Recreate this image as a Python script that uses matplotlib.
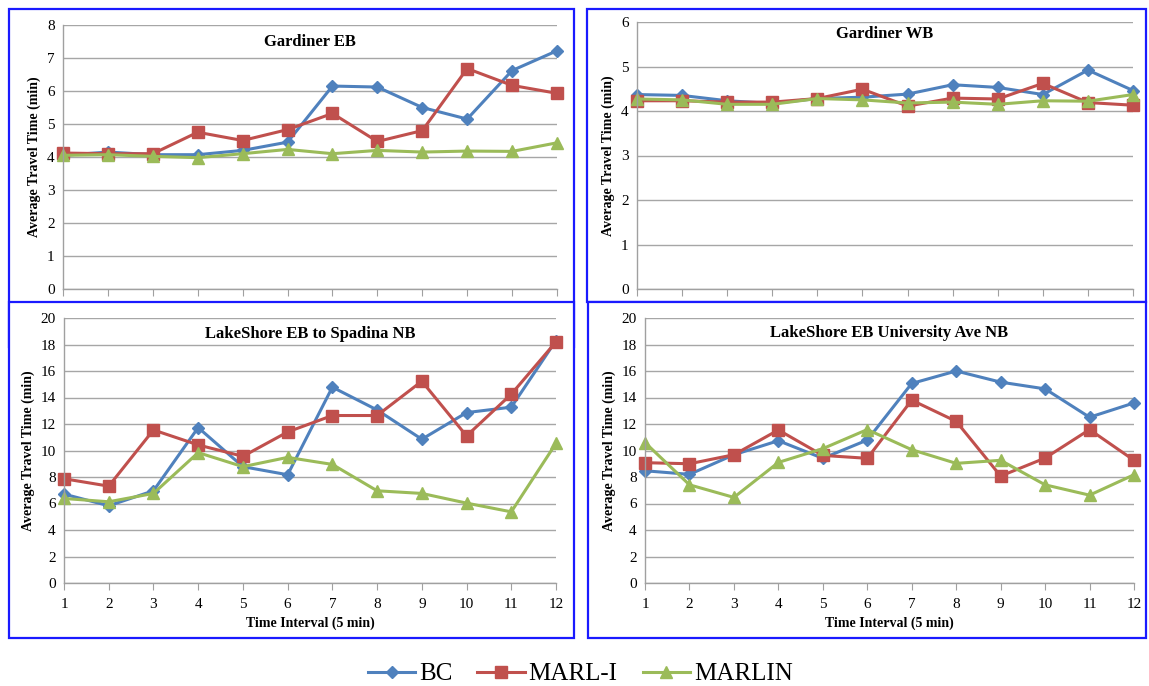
import matplotlib
matplotlib.use("Agg")
import matplotlib.pyplot as plt
from matplotlib.patches import Rectangle

plt.rcParams['font.family'] = ['Liberation Serif', 'DejaVu Serif']

intervals = list(range(1, 13))
series_names = ['BC', 'MARL-I', 'MARLIN']

# Gardiner EB
eb_bc = [4.05, 4.15, 4.07, 4.07, 4.2, 4.45, 6.15, 6.12, 5.5, 5.15, 6.62, 7.22]
eb_marli = [4.12, 4.1, 4.1, 4.75, 4.5, 4.83, 5.32, 4.47, 4.8, 6.68, 6.17, 5.93]
eb_marlin = [4.05, 4.07, 4.02, 3.98, 4.1, 4.23, 4.1, 4.2, 4.15, 4.18, 4.17, 4.43]

# Gardiner WB
wb_bc = [4.37, 4.35, 4.23, 4.17, 4.28, 4.31, 4.38, 4.59, 4.53, 4.37, 4.92, 4.46]
wb_marli = [4.23, 4.23, 4.2, 4.2, 4.28, 4.49, 4.11, 4.29, 4.27, 4.62, 4.19, 4.13]
wb_marlin = [4.27, 4.25, 4.15, 4.15, 4.28, 4.25, 4.18, 4.2, 4.15, 4.23, 4.22, 4.37]

# LakeShore EB to Spadina NB
sp_bc = [6.71, 5.83, 6.96, 11.73, 8.78, 8.17, 14.78, 13.06, 10.85, 12.86, 13.27, 18.3]
sp_marli = [7.87, 7.31, 11.55, 10.42, 9.56, 11.4, 12.64, 12.64, 15.23, 11.1, 14.25, 18.2]
sp_marlin = [6.38, 6.13, 6.76, 9.84, 8.78, 9.48, 8.95, 6.96, 6.76, 6.03, 5.37, 10.54]

# LakeShore EB University Ave NB
un_bc = [8.47, 8.2, 9.68, 10.74, 9.41, 10.79, 15.06, 16.0, 15.16, 14.65, 12.51, 13.59]
un_marli = [9.08, 9.0, 9.68, 11.55, 9.63, 9.41, 13.8, 12.2, 8.07, 9.43, 11.58, 9.26]
un_marlin = [10.6, 7.41, 6.46, 9.1, 10.14, 11.58, 10.06, 9.03, 9.26, 7.41, 6.63, 8.17]

colors = ['#4F81BD', '#C0504D', '#9BBB59']
markers = ['D', 's', '^']
msizes = [6, 8, 8]

W, H = 1149, 686
fig = plt.figure(figsize=(W / 100, H / 100), dpi=100)


def px_rect(x0, y0, x1, y1):
    return [x0 / W, 1 - y1 / H, (x1 - x0) / W, (y1 - y0) / H]


def add_box(x0, y0, x1, y1, z):
    l, b, w, h = px_rect(x0, y0, x1, y1)
    r = Rectangle((l, b), w, h, transform=fig.transFigure, facecolor='white',
                  edgecolor='#1a1aff', linewidth=1.6, zorder=z)
    fig.patches.append(r)


def panel(rect, title, data, ymax, ystep, z, xlabel=True, title_y=0.93):
    ax = fig.add_axes(rect, zorder=z)
    ax.set_facecolor('none')
    for vals, c, m, ms, name in zip(data, colors, markers, msizes, series_names):
        ax.plot(intervals, vals, color=c, marker=m, markersize=ms, linewidth=2.2,
                label=name, clip_on=False)
    ax.set_xlim(1, 12)
    ax.set_ylim(0, ymax)
    ax.set_xticks(intervals)
    ax.set_yticks(range(0, ymax + 1, ystep))
    ax.grid(axis='y', color='#A6A6A6', linewidth=1.0)
    ax.set_axisbelow(True)
    for s in ['top', 'right']:
        ax.spines[s].set_visible(False)
    for s in ['left', 'bottom']:
        ax.spines[s].set_color('#A0A0A0')
        ax.spines[s].set_linewidth(1.0)
    ax.tick_params(axis='x', direction='out', length=5, color='#A0A0A0',
                   labelsize=11, pad=6)
    ax.tick_params(axis='y', length=0, labelsize=11, pad=6)
    ax.set_ylabel('Average Travel Time (min)', fontsize=10, fontweight='bold')
    if xlabel:
        ax.set_xlabel('Time Interval (5 min)', fontsize=10, fontweight='bold', labelpad=4)
    ax.text(0.5, title_y, title, transform=ax.transAxes, ha='center', va='center',
            fontsize=12, fontweight='bold')
    return ax


# top panels (partly covered by the lower ones)
add_box(9, 9, 574, 347, 1)
add_box(587, 9, 1146, 302, 1)
panel(px_rect(63, 25, 557, 289), 'Gardiner EB', [eb_bc, eb_marli, eb_marlin], 8, 1, 2,
      xlabel=False, title_y=0.935)
panel(px_rect(637, 22, 1133, 289), 'Gardiner WB', [wb_bc, wb_marli, wb_marlin], 6, 1, 2,
      xlabel=False, title_y=0.955)

# bottom panels
add_box(9, 302, 574, 638, 3)
add_box(588, 302, 1146, 638, 3)
ax3 = panel(px_rect(64, 318, 556, 583), 'LakeShore EB to Spadina NB',
            [sp_bc, sp_marli, sp_marlin], 20, 2, 4, title_y=0.94)
panel(px_rect(645, 318, 1134, 583), 'LakeShore EB University Ave NB',
      [un_bc, un_marli, un_marlin], 20, 2, 4, title_y=0.945)

handles, labels = ax3.get_legend_handles_labels()
fig.legend(handles, labels, loc='center', ncol=3, bbox_to_anchor=(0.505, 1 - 674 / H),
           frameon=False, fontsize=18, handlelength=1.9, columnspacing=1.0,
           handletextpad=0.15)

fig.savefig('out.png', dpi=100)
